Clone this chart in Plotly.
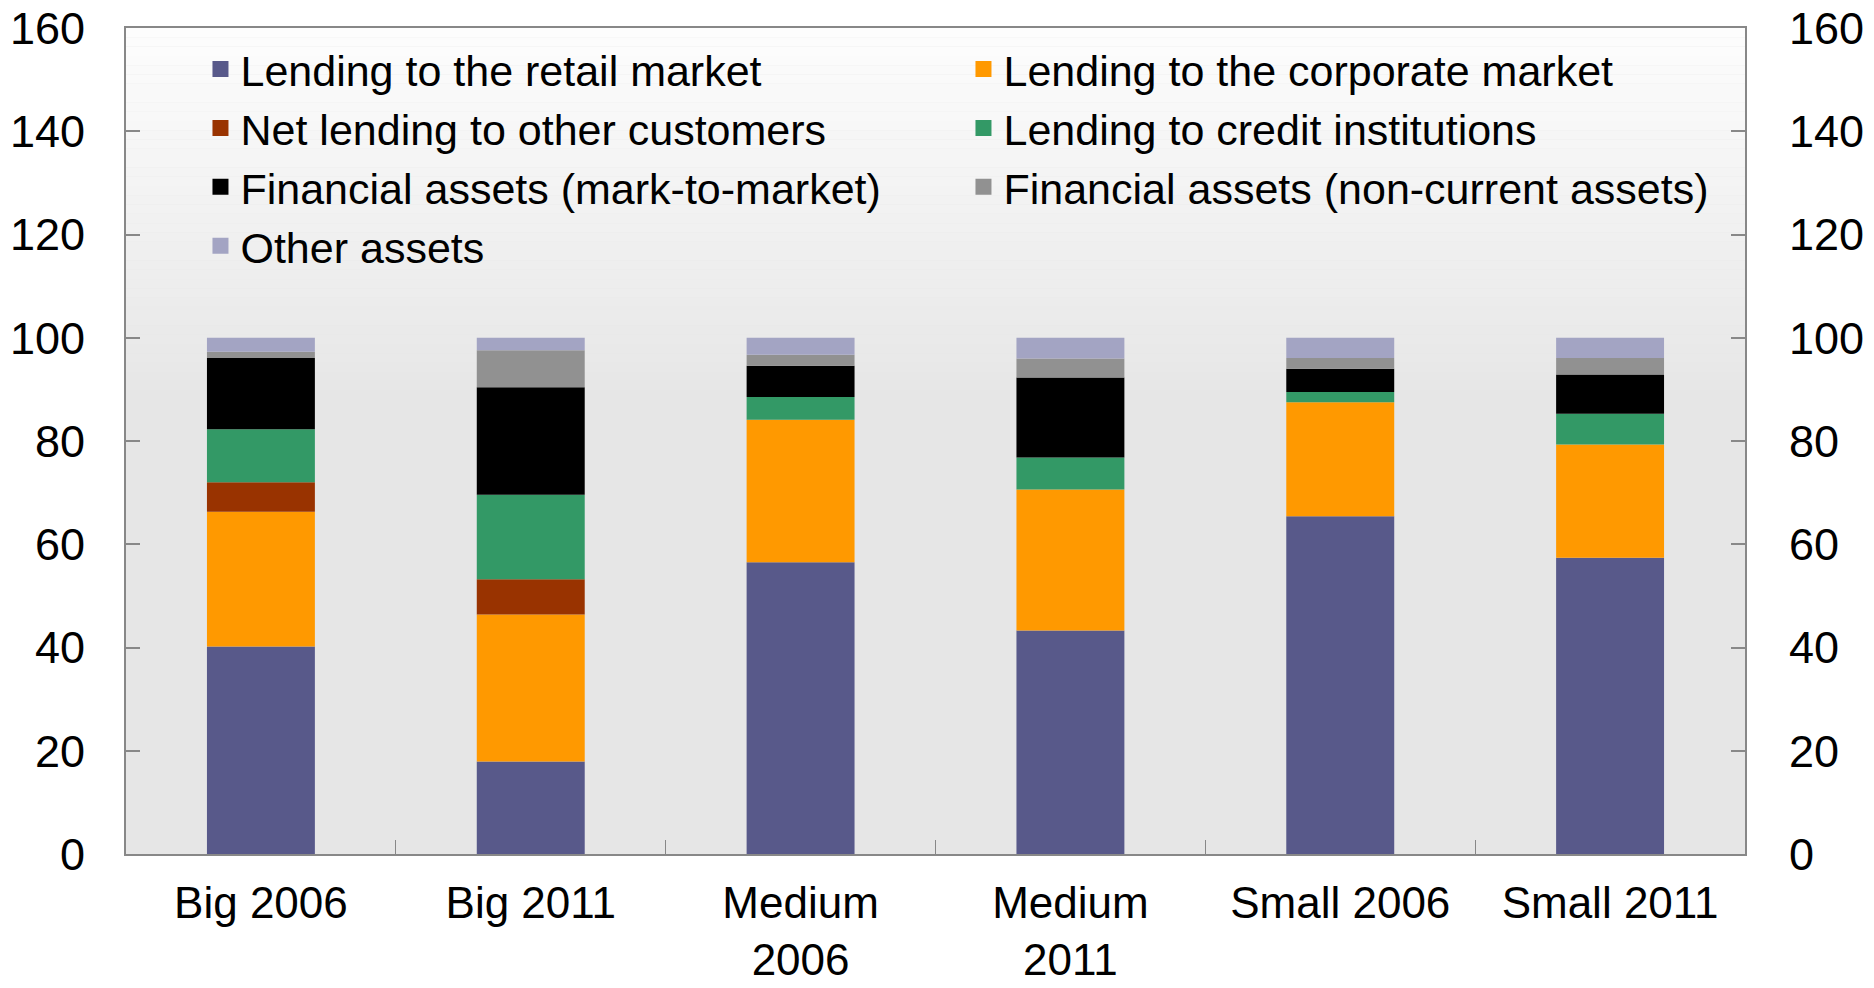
import plotly.graph_objects as go

categories = ["Big 2006", "Big 2011", "Medium<br>2006", "Medium<br>2011", "Small 2006", "Small 2011"]
series_names = [
    "Lending to the retail market",
    "Lending to the corporate market",
    "Net lending to other customers",
    "Lending to credit institutions",
    "Financial assets (mark-to-market)",
    "Financial assets (non-current assets)",
    "Other assets",
]
retail = [40.2, 17.9, 56.5, 43.3, 65.4, 57.4]
corporate = [26.1, 28.5, 27.6, 27.3, 22.1, 21.9]
net_other = [5.7, 6.8, 0.0, -0.2, 0.0, -0.2]
credit_inst = [10.3, 16.4, 4.4, 6.2, 2.0, 6.0]
mark_to_market = [13.8, 20.8, 6.1, 15.5, 4.5, 7.6]
non_current = [1.2, 7.2, 2.1, 3.7, 2.1, 3.2]
other_assets = [2.7, 2.4, 3.3, 4.0, 3.9, 3.9]
y_ticks = [0, 20, 40, 60, 80, 100, 120, 140, 160]

series_values = [retail, corporate, net_other, credit_inst, mark_to_market, non_current, other_assets]
colors = ["#58598A", "#FF9900", "#993300", "#339966", "#000000", "#919191", "#A3A4C3"]

FONT = "Liberation Sans, Arial, sans-serif"

fig = go.Figure()
for name, vals, col in zip(series_names, series_values, colors):
    fig.add_trace(go.Bar(
        x=categories, y=vals, name=name, width=0.4,
        marker=dict(color=col, line=dict(width=0)),
        showlegend=False,
    ))
# legend entries (empty traces, square symbols) also anchor the right axis
for name, col in zip(series_names, colors):
    fig.add_trace(go.Scatter(
        x=[None], y=[None], name=name, mode="markers", yaxis="y2",
        marker=dict(symbol="square", size=20, color=col),
    ))

# gradient background bands (white at top to light grey)
shapes = []
n = 40
g_top, g_bot = 160.0, 88.0
c_top, c_bot = 253, 230
for i in range(n):
    y1 = g_top - (g_top - g_bot) * i / n
    y0 = g_top - (g_top - g_bot) * (i + 1) / n
    c = round(c_top + (c_bot - c_top) * (i + 0.5) / n)
    shapes.append(dict(type="rect", xref="paper", yref="y", x0=0, x1=1, y0=y0, y1=y1,
                       fillcolor=f"rgb({c},{c},{c})", line=dict(width=0), layer="below"))

axis_col = "#888888"
fig.update_layout(
    width=1874, height=988,
    margin=dict(l=126, r=129, t=28, b=134),
    paper_bgcolor="white",
    plot_bgcolor="rgb(230,230,230)",
    barmode="relative",
    font=dict(family=FONT, size=45, color="black"),
    shapes=shapes,
    showlegend=True,
    legend=dict(
        orientation="h", x=0.046, y=0.992, xanchor="left", yanchor="top",
        bgcolor="rgba(0,0,0,0)", font=dict(size=43, family=FONT),
        entrywidth=718, entrywidthmode="pixels", traceorder="normal",
        itemsizing="trace",
    ),
    xaxis=dict(
        type="category", range=[-0.5, 5.5], showline=True, linecolor=axis_col, linewidth=2,
        mirror=True, ticks="inside", ticklen=14, tickcolor=axis_col, tickwidth=1,
        tickson="boundaries", tickfont=dict(size=44), ticklabelstandoff=9,
        showgrid=False, zeroline=False, automargin=False,
    ),
    yaxis=dict(
        range=[0, 160], tickvals=y_ticks, showline=True, linecolor=axis_col, linewidth=2,
        mirror=True, ticks="inside", ticklen=14, tickcolor=axis_col, tickwidth=2,
        showgrid=False, zeroline=False, tickfont=dict(size=45), ticklabelstandoff=30,
        automargin=False, ticklabeloverflow="allow",
    ),
    yaxis2=dict(
        range=[0, 160], tickvals=y_ticks, overlaying="y", side="right", showline=False,
        ticks="inside", ticklen=14, tickcolor=axis_col, tickwidth=2,
        showgrid=False, zeroline=False, tickfont=dict(size=45), ticklabelstandoff=43,
        automargin=False, ticklabeloverflow="allow",
    ),
)

# remove the default page margin so the figure fills the window exactly
fig.write_html("out.html", config={"displayModeBar": False},
               post_script="document.body.style.margin='0';")
